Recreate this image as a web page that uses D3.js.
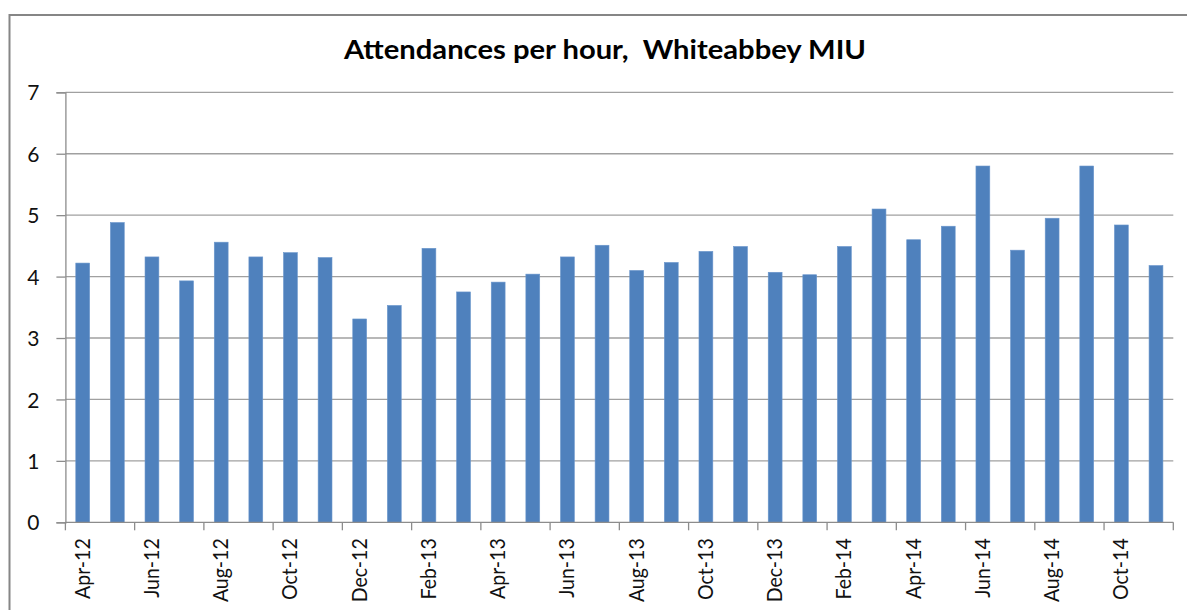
<!DOCTYPE html>
<html>
<head>
<meta charset="utf-8">
<script src="https://cdn.jsdelivr.net/npm/d3@7"></script>
<style>
  html, body { margin: 0; padding: 0; background: #fff; }
  svg { display: block; }
</style>
</head>
<body>
<svg id="chart" width="1187" height="610"></svg>
<script>
const categories = ["Apr-12","May-12","Jun-12","Jul-12","Aug-12","Sep-12","Oct-12","Nov-12","Dec-12","Jan-13","Feb-13","Mar-13","Apr-13","May-13","Jun-13","Jul-13","Aug-13","Sep-13","Oct-13","Nov-13","Dec-13","Jan-14","Feb-14","Mar-14","Apr-14","May-14","Jun-14","Jul-14","Aug-14","Sep-14","Oct-14","Nov-14"];
const values = [4.22,4.88,4.32,3.93,4.56,4.32,4.39,4.31,3.31,3.53,4.46,3.75,3.91,4.04,4.32,4.51,4.10,4.23,4.41,4.49,4.07,4.03,4.49,5.10,4.60,4.82,5.80,4.43,4.95,5.80,4.84,4.18];
const yTicks = [0,1,2,3,4,5,6,7];
const title = "Attendances per hour,  Whiteabbey MIU";

const svg = d3.select("#chart");
const FONT = "Lato, 'Open Sans', sans-serif";

// chart area border
svg.append("rect")
  .attr("x", 9.5).attr("y", 15).attr("width", 1200).attr("height", 620)
  .attr("fill", "#fff").attr("stroke", "#868686").attr("stroke-width", 2);

const pL = 65.4, pR = 1173.3, pT = 92.3, pB = 522.3;

const xb = d3.scaleBand().domain(categories).range([pL, pR]);
const y = d3.scaleLinear().domain([0, 7]).range([pB, pT]);

// gridlines
svg.append("g").selectAll("line").data(yTicks.filter(d => d > 0)).join("line")
  .attr("x1", pL).attr("x2", pR)
  .attr("y1", d => y(d)).attr("y2", d => y(d))
  .attr("stroke", "#a0a0a0").attr("stroke-width", 1.3);

// bars
const bw = xb.bandwidth() / 2.5;
svg.append("g").selectAll("rect").data(values).join("rect")
  .attr("x", (d, i) => xb(categories[i]) + (xb.bandwidth() - bw) / 2)
  .attr("width", bw)
  .attr("y", d => y(d))
  .attr("height", d => pB - y(d))
  .attr("fill", "#4f81bd")
  .attr("stroke", "#6a96cc").attr("stroke-width", 0.6);

// y axis
const yAxis = svg.append("g").attr("transform", `translate(${pL},0)`)
  .call(d3.axisLeft(y).tickValues(yTicks).tickSize(9).tickPadding(8).tickFormat(d3.format("d")));
yAxis.select(".domain").attr("stroke", "#8c8c8c").attr("stroke-width", 1.3);
yAxis.selectAll(".tick line").attr("stroke", "#8c8c8c").attr("stroke-width", 1.3);
yAxis.selectAll(".tick text")
  .attr("x", -26).attr("dy", "0.36em")
  .style("font-family", FONT).style("font-size", "21px").attr("fill", "#111");

// x axis: tick marks at every other band boundary
const boundaries = d3.range(0, categories.length + 1, 2).map(i => i < categories.length ? xb(categories[i]) : pR);
const xg = svg.append("g");
xg.append("line").attr("x1", pL).attr("x2", pR).attr("y1", pB).attr("y2", pB)
  .attr("stroke", "#8c8c8c").attr("stroke-width", 1.3);
xg.selectAll("line.tk").data(boundaries).join("line").attr("class", "tk")
  .attr("x1", d => d).attr("x2", d => d).attr("y1", pB).attr("y2", pB + 8)
  .attr("stroke", "#8c8c8c").attr("stroke-width", 1.3);

const labeled = categories.filter((c, i) => i % 2 === 0);
xg.selectAll("text").data(labeled).join("text")
  .attr("transform", d => `translate(${xb(d) + xb.bandwidth() / 2 + 7},${pB + 16}) rotate(-90) scale(1,1.1)`)
  .attr("text-anchor", "end")
  .style("font-family", FONT).style("font-size", "19.5px").attr("fill", "#111")
  .text(d => d);

// title
svg.append("text")
  .attr("x", 344).attr("y", 59)
  .attr("textLength", 522).attr("lengthAdjust", "spacingAndGlyphs")
  .style("font-family", FONT).style("font-size", "26px").style("font-weight", "bold")
  .style("white-space", "pre").attr("fill", "#000")
  .text(title);
</script>
</body>
</html>
